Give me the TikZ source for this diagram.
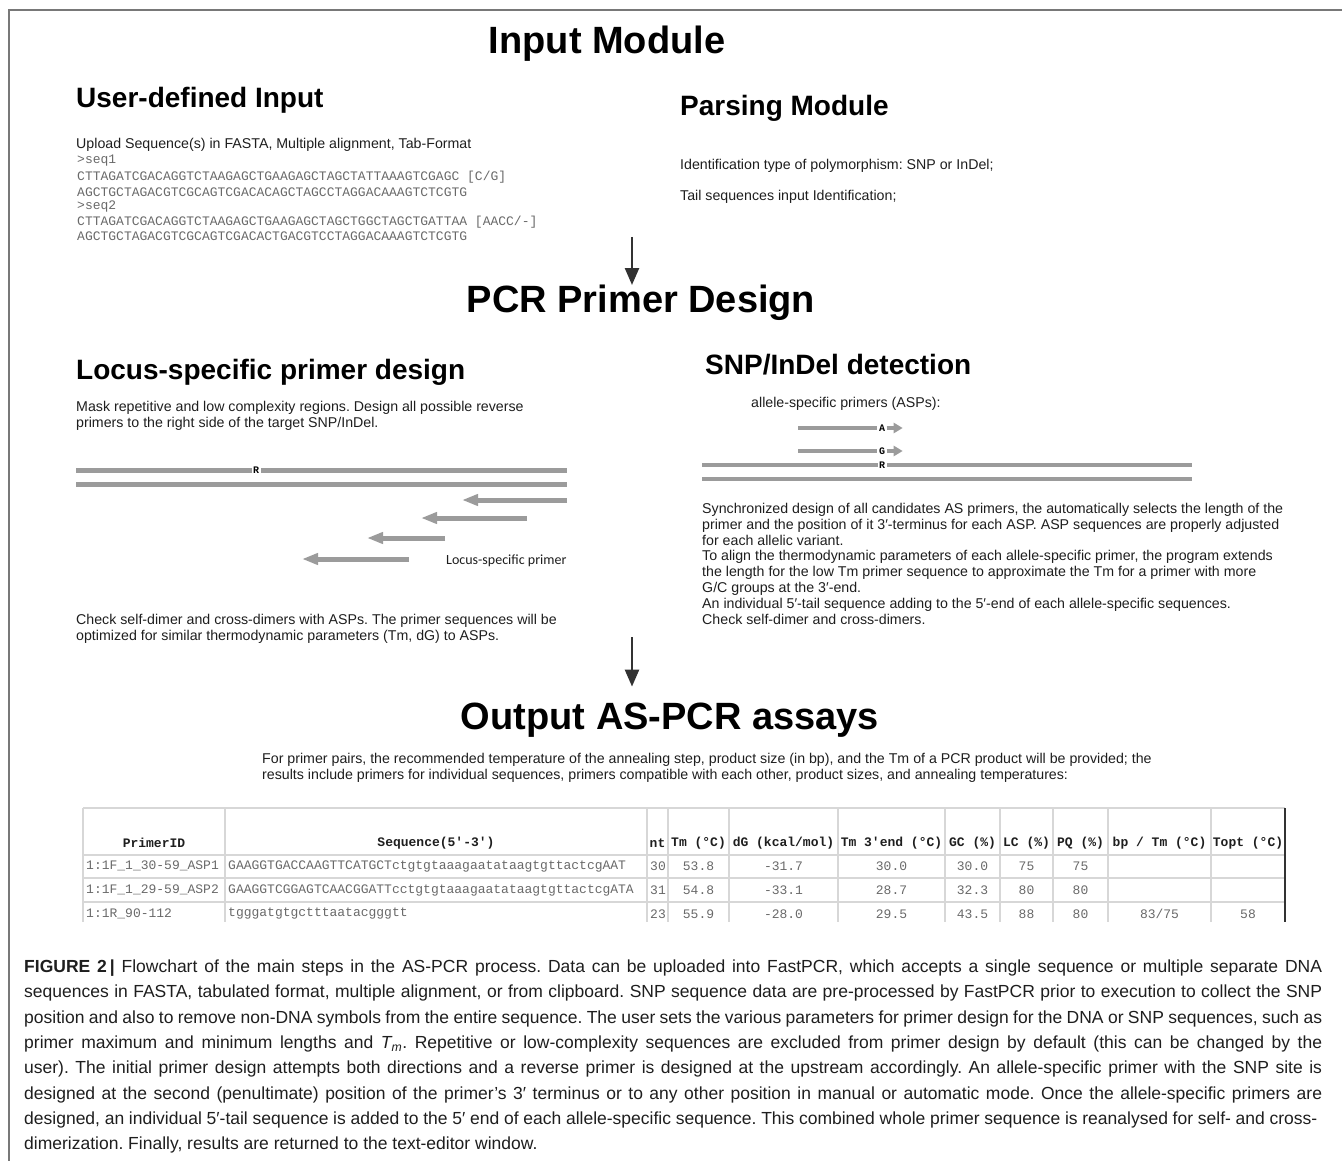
\documentclass[tikz,border=0pt]{standalone}
\usepackage{fontspec}
\setmainfont{Liberation Sans}
\setmonofont{Liberation Mono}
\newfontfamily\calibri{Carlito}
\usetikzlibrary{arrows.meta}
\frenchspacing

\definecolor{barc}{RGB}{155,155,155}
\definecolor{txtc}{RGB}{30,30,30}
\definecolor{seqc}{RGB}{105,105,105}
\definecolor{gridc}{RGB}{215,215,215}
\definecolor{framec}{RGB}{120,120,120}
\definecolor{flowc}{RGB}{50,50,50}

\tikzset{
  modtitle/.style={font=\fontsize{38}{42}\selectfont\bfseries, inner sep=0pt},
  subhead/.style={font=\fontsize{28}{32}\selectfont\bfseries, anchor=west, inner sep=0pt},
  body/.style={font=\fontsize{14.2}{15.8}\selectfont, text=txtc, align=left, inner sep=0pt},
  seqline/.style={font=\ttfamily\fontsize{13}{14.8}\selectfont, text=seqc, anchor=west, inner sep=0pt},
  dnabar/.style={draw=barc, line width=5pt},
  primer/.style={dnabar, -{Triangle[length=16pt,width=11pt]}},
  asptip/.style={dnabar, line width=4.5pt, -{Triangle[length=9pt,width=10pt]}},
  snpbase/.style={font=\ttfamily\bfseries\fontsize{10}{10}\selectfont, fill=white, inner sep=1.5pt},
  flow/.style={draw=flowc, line width=2.5pt, -{Triangle[length=17pt,width=14pt]}},
  cell/.style={font=\ttfamily\fontsize{13}{14}\selectfont, text=seqc, inner sep=0pt},
  hcell/.style={font=\ttfamily\bfseries\fontsize{13}{14}\selectfont, text=txtc, inner sep=0pt},
  capline/.style={font=\fontsize{17.5}{20}\selectfont, text=txtc, anchor=west, inner sep=0pt}
}

\begin{document}
\begin{tikzpicture}[x=1pt, y=-1pt]
\useasboundingbox (0,0) rectangle (1342,1161);
\draw[framec, line width=1.2pt] (9,1161) -- (9,10) -- (1342,10);

\node[modtitle] (input) at (607,44) {Input Module};
\node[subhead] (user) at (76,100) {User-defined Input};
\node[body, anchor=west] (upload) at (76,145) {Upload Sequence(s) in FASTA, Multiple alignment, Tab-Format};
\foreach \y/\s [count=\i] in
  {
    161/{>seq1},
    177/{CTTAGATCGACAGGTCTAAGAGCTGAAGAGCTAGCTATTAAAGTCGAGC [C/G]},
    192/{AGCTGCTAGACGTCGCAGTCGACACAGCTAGCCTAGGACAAAGTCTCGTG},
    207/{>seq2},
    222/{CTTAGATCGACAGGTCTAAGAGCTGAAGAGCTAGCTGGCTAGCTGATTAA [AACC/-]},
    236/{AGCTGCTAGACGTCGCAGTCGACACTGACGTCCTAGGACAAAGTCTCGTG}
  }
  \node[seqline] (seq\i) at (77,\y) {\s};

\node[subhead] (parsing) at (680,108) {Parsing Module};
\node[body, anchor=west] (poly) at (680,166) {Identification type of polymorphism: SNP or InDel;};
\node[body, anchor=west] (tail) at (680,197) {Tail sequences input Identification;};

\coordinate (a1) at (632,237);
\node[modtitle] (pcr) at (641,303) {PCR Primer Design};
\draw[flow] (a1) -- (a1 |- pcr.north);

\node[subhead] (locus) at (76,372) {Locus-specific primer design};
\node[body, anchor=north west] (mask) at (76,401) {Mask repetitive and low complexity regions. Design all possible reverse\\primers to the right side of the target SNP/InDel.};
\draw[dnabar] (76,470) -- (567,470);
\node[snpbase] (r1) at (256,470) {R};
\draw[dnabar] (76,484) -- (567,484);
\foreach \y/\a/\b in {500/567/462, 518/527/421, 538/445/367, 559/409/302}
  \draw[primer] (\a,\y) -- (\b,\y);
\node[font=\calibri\fontsize{14}{14}\selectfont, text=txtc, anchor=west, inner sep=0pt] (lsp) at (446,561) {Locus-specific primer};
\node[body, anchor=north west] (check) at (76,614) {Check self-dimer and cross-dimers with ASPs. The primer sequences will be\\optimized for similar thermodynamic parameters (Tm, dG) to ASPs.};

\node[subhead] (snp) at (705,365) {SNP/InDel detection};
\node[body, anchor=west] (asps) at (751,404) {allele-specific primers (ASPs):};
\foreach \y/\b [count=\i] in {428/A, 451/G}
  {
    \draw[dnabar, line width=4.5pt] (798,\y) -- (877,\y);
    \node[snpbase] (asp\i) at (882,\y) {\b};
    \draw[asptip] (asp\i.east) -- ++(16,0);
  }
\draw[dnabar, line width=4.5pt] (702,465) -- (1192,465);
\node[snpbase] (r2) at (882,465) {R};
\draw[dnabar, line width=4.5pt] (702,479) -- (1192,479);
\node[body, anchor=north west] (sync) at (702,503) {Synchronized design of all candidates AS primers, the automatically selects the length of the\\primer and the position of it 3′-terminus for each ASP. ASP sequences are properly adjusted\\for each allelic variant.\\To align the thermodynamic parameters of each allele-specific primer, the program extends\\the length for the low Tm primer sequence to approximate the Tm for a primer with more\\G/C groups at the 3′-end.\\An individual 5′-tail sequence adding to the 5′-end of each allele-specific sequences.\\Check self-dimer and cross-dimers.};

\coordinate (a2) at (632,637);
\node[modtitle] (output) at (670,720) {Output AS-PCR assays};
\draw[flow, shorten >=16pt] (a2) -- (a2 |- output.north);
\node[body, anchor=north west] (pairs) at (262,753) {For primer pairs, the recommended temperature of the annealing step, product size (in bp), and the Tm of a PCR product will be provided; the\\results include primers for individual sequences, primers compatible with each other, product sizes, and annealing temperatures:};

\foreach \x in {83,225,647,668,729,838,945,1000,1053,1108,1211}
  \draw[gridc, line width=1.5pt] (\x,808) -- (\x,922);
\foreach \y in {808,855,878,902}
  \draw[gridc, line width=1.5pt] (83,\y) -- (1285,\y);
\draw[flowc, line width=1.5pt] (1285,808) -- (1285,922);
\foreach \x/\h [count=\i] in
  {
    154/PrimerID, 436/{Sequence(5'-3')}, 657.5/nt, 698.5/{Tm (°C)},
    783.5/{dG (kcal/mol)}, 891.5/{Tm 3'end (°C)}, 972.5/{GC (\%)},
    1026.5/{LC (\%)}, 1080.5/{PQ (\%)}, 1159.5/{bp / Tm (°C)}, 1248/{Topt (°C)}
  }
  \node[hcell] (head\i) at (\x,843) {\h};
\foreach \y/\id/\sq/\nt/\tm/\dg/\te/\gc/\lc/\pq/\bp/\to [count=\i] in
  {
    866/{1:1F\_1\_30-59\_ASP1}/{GAAGGTGACCAAGTTCATGCTctgtgtaaagaatataagtgttactcgAAT}/30/53.8/-31.7/30.0/30.0/75/75/{}/{},
    890/{1:1F\_1\_29-59\_ASP2}/{GAAGGTCGGAGTCAACGGATTcctgtgtaaagaatataagtgttactcgATA}/31/54.8/-33.1/28.7/32.3/80/80/{}/{},
    914/{1:1R\_90-112}/{tgggatgtgctttaatacgggtt}/23/55.9/-28.0/29.5/43.5/88/80/{83/75}/58
  }
  {
    \node[cell, anchor=west] (id\i) at (86,\y) {\id};
    \node[cell, anchor=west] (sq\i) at (228,\y) {\sq};
    \node[cell, anchor=west] (nt\i) at (650,\y) {\nt};
    \node[cell] (tm\i) at (698.5,\y) {\tm};
    \node[cell] (dg\i) at (783.5,\y) {\dg};
    \node[cell] (te\i) at (891.5,\y) {\te};
    \node[cell] (gc\i) at (972.5,\y) {\gc};
    \node[cell] (lc\i) at (1026.5,\y) {\lc};
    \node[cell] (pq\i) at (1080.5,\y) {\pq};
    \node[cell] (bp\i) at (1159.5,\y) {\bp};
    \node[cell] (to\i) at (1248,\y) {\to};
  }

\foreach \t [count=\i from 0] in
  {
    {\textbf{FIGURE 2\,|} Flowchart of the main steps in the AS-PCR process. Data can be uploaded into FastPCR, which accepts a single sequence or multiple separate DNA},
    {sequences in FASTA, tabulated format, multiple alignment, or from clipboard. SNP sequence data are pre-processed by FastPCR prior to execution to collect the SNP},
    {position and also to remove non-DNA symbols from the entire sequence. The user sets the various parameters for primer design for the DNA or SNP sequences, such as},
    {primer maximum and minimum lengths and {\itshape T}\textsubscript{\itshape m}. Repetitive or low-complexity sequences are excluded from primer design by default (this can be changed by the},
    {user). The initial primer design attempts both directions and a reverse primer is designed at the upstream accordingly. An allele-specific primer with the SNP site is},
    {designed at the second (penultimate) position of the primer's 3′ terminus or to any other position in manual or automatic mode. Once the allele-specific primers are},
    {designed, an individual 5′-tail sequence is added to the 5′ end of each allele-specific sequence. This combined whole primer sequence is reanalysed for self- and cross-}
  }
  \node[capline] (cap\i) at (24,{968+25.3*\i}) {\makebox[1298pt][s]{\t}};
\node[capline] (cap7) at (24,1145) {dimerization. Finally, results are returned to the text-editor window.};
\end{tikzpicture}
\end{document}
